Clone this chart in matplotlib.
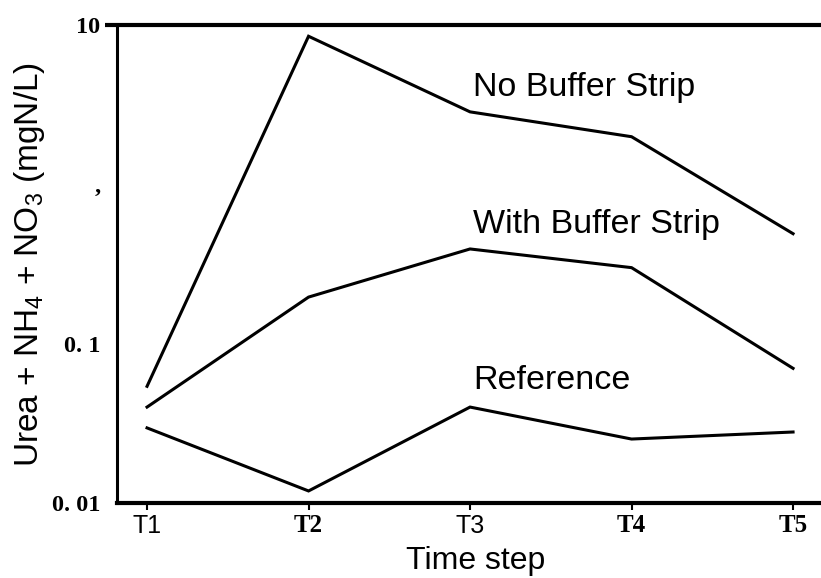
import numpy as np
import matplotlib
matplotlib.use("Agg")
import matplotlib.pyplot as plt

# etapas de tempo
steps = ["T1", "T2", "T3", "T4", "T5"]

# concentracoes (mgN/L)
no_buffer = [0.054, 8.5, 2.85, 1.99, 0.49]
with_buffer = [0.040, 0.196, 0.393, 0.30, 0.070]
reference = [0.0296, 0.0119, 0.040, 0.0252, 0.0279]

# rotulos do eixo y como aparecem na figura
ytick_vals = [0.01, 0.1, 1, 10]
ytick_labels = ["0. 01", "0. 1", ",", "10"]

sans = "Liberation Sans"
serif = "Liberation Serif"

fig = plt.figure(figsize=(8.21, 5.78), dpi=100)
ax = fig.add_axes([117 / 821, 1 - 503 / 578, 1 - 117 / 821, 478 / 578])

x = np.arange(len(steps))
for serie in (no_buffer, with_buffer, reference):
    ax.plot(x, serie, color="black", lw=2.2, solid_joinstyle="miter")

ax.set_yscale("log")
ax.set_ylim(0.01, 10)
ax.set_xlim(-0.186, 4.173)

# eixos
ax.spines["right"].set_visible(False)
ax.spines["top"].set_visible(False)
ax.spines["left"].set_linewidth(2.2)
ax.spines["bottom"].set_linewidth(3)
ax.plot([-0.017, 1], [1, 1], transform=ax.transAxes, color="black",
        lw=3, clip_on=False, solid_capstyle="butt")

ax.set_yticks(ytick_vals)
ax.set_yticks([], minor=True)
ax.set_yticklabels(ytick_labels, family=serif, fontweight="bold", fontsize=17.5)
ax.tick_params(axis="y", length=0, pad=12)

ax.set_xticks(x)
ax.set_xticklabels(steps, fontsize=18)
ax.tick_params(axis="x", length=5, width=1.5, direction="out", pad=3)
for i, lab in enumerate(ax.get_xticklabels()):
    if i in (0, 2):
        lab.set_family(sans)
    else:
        lab.set_family(serif)
        lab.set_fontweight("bold")

ax.set_xlabel("Time step", family=sans, fontsize=23, labelpad=6, x=0.51)
ax.set_ylabel(r"Urea + NH$_\mathregular{4}$ + NO$_\mathregular{3}$ (mgN/L)",
              family=sans, fontsize=24)
ax.yaxis.set_label_coords(-0.099, 0.5)

# rotulos das curvas
for txt, yy in [("No Buffer Strip", 0.87), ("With Buffer Strip", 0.582),
                ("Reference", 0.257)]:
    ax.text(0.506, yy, txt, transform=ax.transAxes, family=sans,
            fontsize=24.5, va="center", ha="left")

fig.savefig("out.png", dpi=100)
